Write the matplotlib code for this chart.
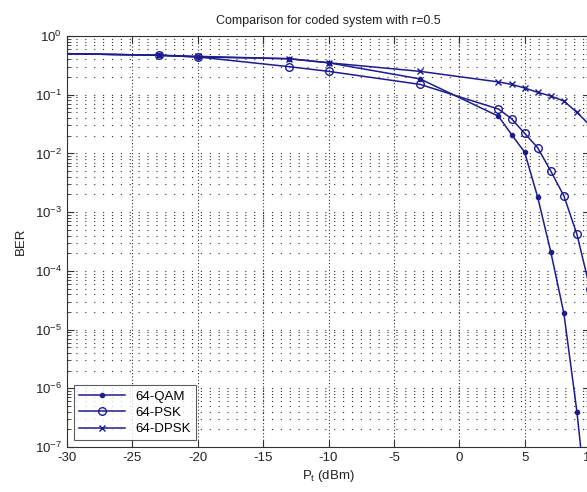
import matplotlib
matplotlib.use("Agg")
import matplotlib.pyplot as plt
from matplotlib.ticker import LogLocator, MultipleLocator, NullFormatter

plt.rcParams['font.family'] = ['Liberation Sans', 'DejaVu Sans']
plt.rcParams['axes.unicode_minus'] = False

pt = [-30, -23, -20, -13, -10, -3, 3, 4, 5, 6, 7, 8, 9, 10]
ber_qam = [0.5, 0.47, 0.44, 0.41, 0.35, 0.186, 0.043, 0.021, 0.0105, 0.0018, 2.1e-4, 1.9e-5, 4e-7, 3e-9]
ber_psk = [0.5, 0.47, 0.44, 0.30, 0.25, 0.15, 0.057, 0.039, 0.022, 0.0125, 0.005, 0.0019, 4.2e-4, 5e-5]
ber_dpsk = [0.5, 0.47, 0.45, 0.41, 0.35, 0.25, 0.165, 0.15, 0.13, 0.11, 0.095, 0.078, 0.05, 0.03]
labels = ['64-QAM', '64-PSK', '64-DPSK']
title = 'Comparison for coded system with r=0.5'

col = '#1c1c90'
fig = plt.figure(figsize=(5.87, 4.92), dpi=100)
ax = fig.add_axes([67/587, 45/492, 523/587, 411/492])

ax.semilogy(pt, ber_qam, '-', marker='.', color=col, lw=1.1, ms=6, label=labels[0], markevery=slice(1, None))
ax.semilogy(pt, ber_psk, '-', marker='o', color=col, lw=1.1, ms=5.5, mfc='none', label=labels[1], markevery=slice(1, None))
ax.semilogy(pt, ber_dpsk, '-', marker='x', color=col, lw=1.1, ms=5, label=labels[2], markevery=slice(1, None))

ax.set_xlim(-30, 10)
ax.set_ylim(1e-7, 1)
ax.xaxis.set_major_locator(MultipleLocator(5))
ax.yaxis.set_major_locator(LogLocator(base=10, numticks=20))
ax.yaxis.set_minor_locator(LogLocator(base=10, subs=range(2, 10), numticks=20))
ax.yaxis.set_minor_formatter(NullFormatter())

ax.grid(True, which='major', axis='x', color='#303030', ls=(0, (1, 2)), lw=0.8)
ax.grid(True, which='both', axis='y', color='#303030', ls=(0, (1, 7)), lw=0.8)
ax.set_axisbelow(True)

ax.tick_params(which='both', direction='in', top=True, right=True, labelsize=9.5, colors='#333333', labelcolor='#222222')
ax.tick_params(which='major', length=5)
ax.tick_params(which='minor', length=3)
for s in ax.spines.values():
    s.set_color('#333333')
    s.set_linewidth(0.8)

ax.set_title(title, fontsize=9, color='#222222', pad=9)
ax.set_xlabel('P$_\\mathregular{t}$ (dBm)', fontsize=9.5, color='#222222', labelpad=3)
ax.set_ylabel('BER', fontsize=9.5, color='#222222', labelpad=6)

leg = ax.legend(loc='lower left', fontsize=9.5, frameon=True, fancybox=False, edgecolor='#333333',
                borderaxespad=0.5, handlelength=3.5, labelspacing=0.3, borderpad=0.4)
leg.get_frame().set_linewidth(0.8)

fig.savefig('out.png', dpi=100)
